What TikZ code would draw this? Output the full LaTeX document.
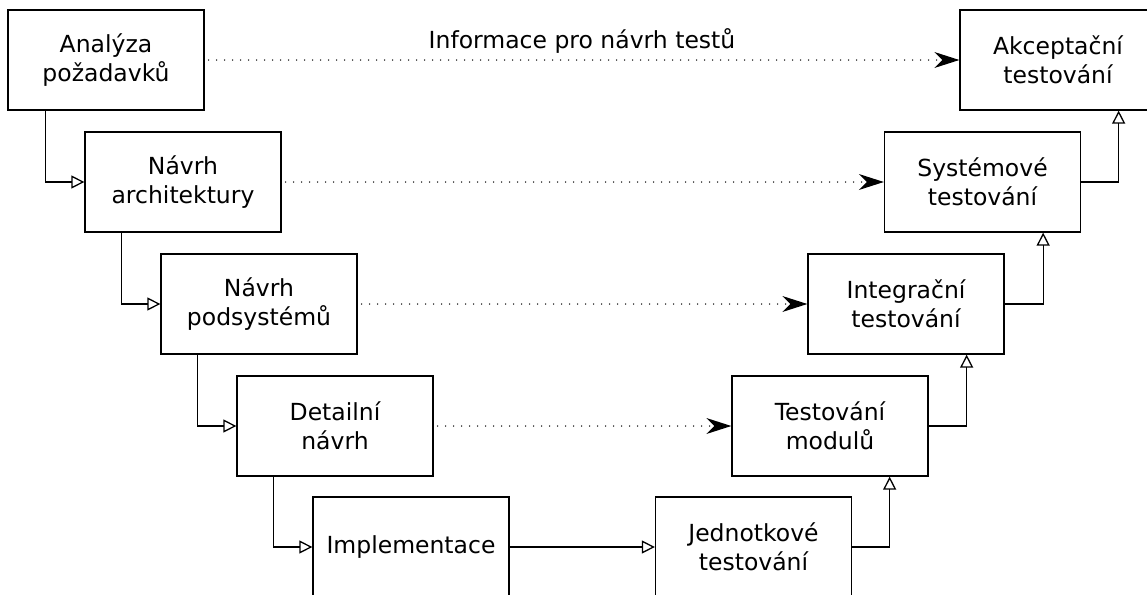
\documentclass[tikz,border=0pt]{standalone}
\usepackage{fontspec}
\setmainfont{DejaVu Sans}
\usetikzlibrary{arrows.meta}

\tikzset{
  phase/.style={draw=black, line width=1.3pt, minimum width=196pt, minimum height=100pt,
    inner sep=0pt, align=center, font=\fontsize{23.5}{29.5}\selectfont, text=black},
  flow/.style={line width=1.3pt, -{Triangle[open, length=13pt, width=13pt, line width=1.3pt]}},
  info/.style={line width=1.5pt, line cap=round, dash pattern=on 0pt off 8pt, dash phase=4pt,
    -{Stealth[length=25pt, width=16pt, inset=8pt, line width=0pt, sep=0pt]}}
}

\begin{document}
\begin{tikzpicture}[x=1pt, y=-1pt]
  \useasboundingbox (0,0) rectangle (1147,594);
  \clip (0,0) rectangle (1147,594);

  % left branch: design phases
  \node[phase] (ana) at (106,60)   {Analýza\\požadavků};
  \node[phase] (arch) at (183,182) {Návrh\\architektury};
  \node[phase] (sub) at (259,304)  {Návrh\\podsystémů};
  \node[phase] (det) at (335,426)  {Detailní\\návrh};
  \node[phase] (impl) at (411,547) {Implementace};

  % right branch: testing phases
  \node[phase] (unit) at (753.5,547) {Jednotkové\\testování};
  \node[phase] (mod) at (830,426)    {Testování\\modulů};
  \node[phase] (integ) at (906,304)  {Integrační\\testování};
  \node[phase] (sys) at (982.5,182)  {Systémové\\testování};
  \node[phase] (acc) at (1058,60)    {Akceptační\\testování};

  % descending steps
  \draw[flow] ([xshift=38pt]ana.south west) |- (arch.west);
  \draw[flow] ([xshift=37pt]arch.south west) |- (sub.west);
  \draw[flow] ([xshift=37pt]sub.south west) |- (det.west);
  \draw[flow] ([xshift=37pt]det.south west) |- (impl.west);
  \draw[flow] (impl.east) -- (unit.west);

  % ascending steps
  \draw[flow] (unit.east) -| ([xshift=-39pt]mod.south east);
  \draw[flow] (mod.east) -| ([xshift=-38pt]integ.south east);
  \draw[flow] (integ.east) -| ([xshift=-38pt]sys.south east);
  \draw[flow] (sys.east) -| ([xshift=-38pt]acc.south east);

  % test design information
  \draw[info] (ana.east) -- node[above=6pt, font=\fontsize{23.5}{29.5}\selectfont, inner sep=0pt] (lbl) {Informace pro návrh testů} (acc.west);
  \draw[info] (arch.east) -- (sys.west);
  \draw[info] (sub.east) -- (integ.west);
  \draw[info] (det.east) -- (mod.west);
\end{tikzpicture}
\end{document}
